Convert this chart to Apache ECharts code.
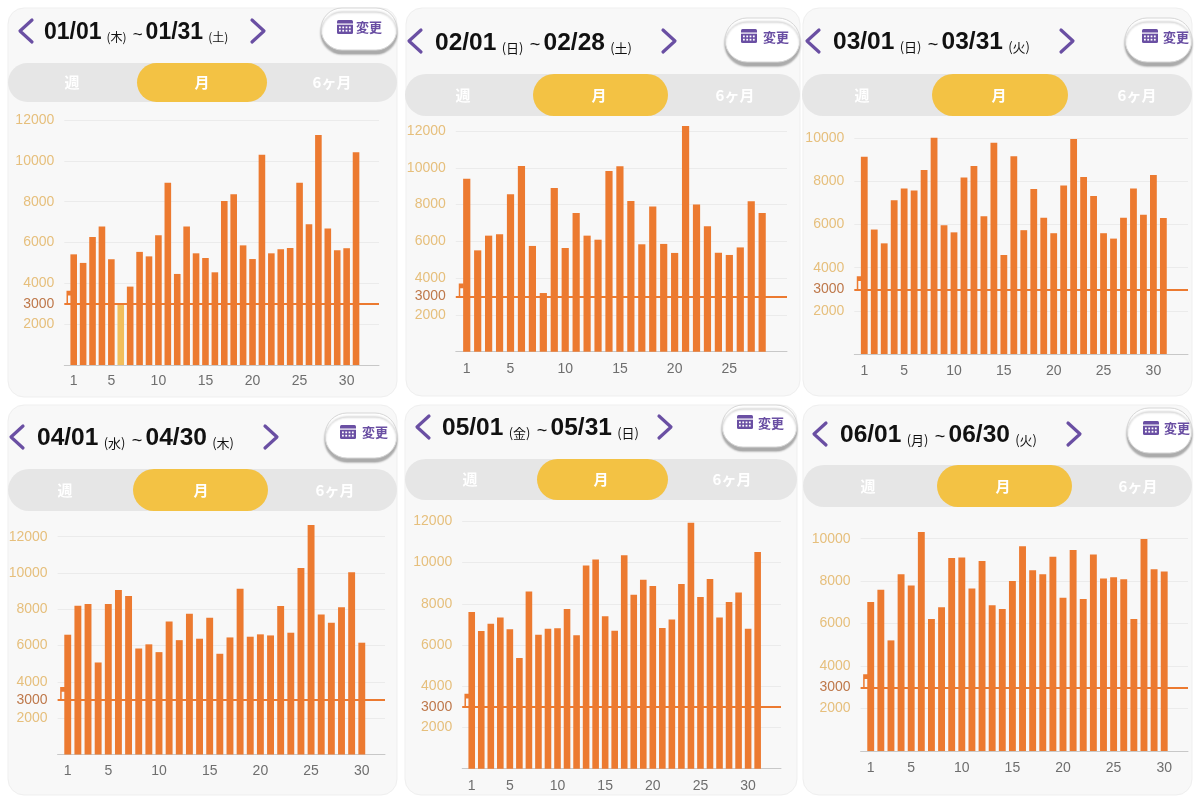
<!DOCTYPE html>
<html><head><meta charset="utf-8">
<script src="https://cdn.jsdelivr.net/npm/echarts@6/dist/echarts.min.js"></script>
<style>html,body{margin:0;padding:0;background:#fff}#c{width:1200px;height:801px}</style>
</head><body><div id="c"></div>
<script>
// ---- data (daily step counts) ----
const janSteps = [5420,5000,6270,6780,5180,3000,3840,5540,5320,6350,8930,4460,6780,5470,5240,4540,8030,8360,5860,5190,10300,5470,5670,5730,8930,6890,11270,6680,5620,5720,10420];
const febSteps = [9410,5510,6310,6380,8560,10100,5750,3190,8900,5640,7540,6310,6090,9830,10080,8190,5840,7900,5860,5370,12270,8010,6820,5380,5260,5670,8180,7540];
const marSteps = [9140,5770,5130,7130,7670,7580,8530,10030,5970,5640,8180,8720,6390,9790,4590,9170,5740,7650,6320,5600,7810,9970,8210,7330,5600,5350,6320,7670,6450,8300,6310];
const aprSteps = [6600,8200,8290,5070,8290,9060,8730,5840,6070,5640,7330,6300,7760,6380,7540,5550,6450,9130,6490,6620,6560,8180,6710,10270,12650,7720,7260,8110,10040,6160];
const maySteps = [7600,6680,7030,7330,6760,5370,8600,6500,6790,6810,7750,6470,9860,10150,7390,6690,10350,8440,9170,8860,6820,7240,8960,11930,8330,9200,7330,8090,8550,6790,10510];
const junSteps = [7020,7600,5210,8320,7790,10310,6220,6770,9090,9120,7650,8950,6860,6690,8010,9640,8510,8320,9150,7220,9470,7160,9260,8120,8180,8090,6220,9990,8560,8450];
const janLightDays = [6];           // day drawn in the lighter colour
const targetSteps = 3000;
const yMaxima = [12000,12000,10000,12000,12000,10000];
const dayTicksLong = [1,5,10,15,20,25,30];
const dayTicksFeb = [1,5,10,15,20,25];
const panelTitles = [
  ['01/01','木','01/31','土'],
  ['02/01','日','02/28','土'],
  ['03/01','日','03/31','火'],
  ['04/01','水','04/30','木'],
  ['05/01','金','05/31','日'],
  ['06/01','月','06/30','火']
];
const tabLabels = ['週','月','6ヶ月'];
const changeLabel = '変更';

// ---- layout (pixel positions of each screenshot panel) ----
const L = [
 {card:[8,8,389,389], la:[26,31], tx:44, ty:31, ra:[258,31], fs:23, sfs:12, btn:[321,8,76,42,21], ico:[337,20], bt:[356,27], seg:[8,63,389,39], pill:[137,130], tabs:[72,202,332],
  g:{x0:64.3, top:120, bottom:365, right:379, xMax:33.44, lbl:16}, bw:6.6},
 {card:[406,8,394,388], la:[415,41], tx:435, ty:41, ra:[669,41], fs:24.5, sfs:13, btn:[725,18,75,44,22], ico:[741,29], bt:[763,37], seg:[405,74,395,42], pill:[533,135], tabs:[463,599,735],
  g:{x0:455.8, top:131, bottom:351.7, right:787, xMax:30.27, lbl:17.6}, bw:7.2},
 {card:[803,8,389,388], la:[813,41], tx:833, ty:40.5, ra:[1067,41], fs:24.5, sfs:13, btn:[1125,18,67,44,22], ico:[1142,29], bt:[1163,37], seg:[802,74,390,42], pill:[932,136], tabs:[862,999,1137],
  g:{x0:854.3, top:138.3, bottom:354, right:1188, xMax:33.47, lbl:17}, bw:6.8},
 {card:[8,405,389,390], la:[17,437], tx:37, ty:436.7, ra:[271,437], fs:24.5, sfs:13, btn:[325,413,72,45,22], ico:[340,425], bt:[362,432], seg:[8,469,389,42], pill:[133,135], tabs:[65,201,335],
  g:{x0:57.6, top:536.7, bottom:754.5, right:385, xMax:32.29, lbl:16.8}, bw:6.9},
 {card:[405,405,392,390], la:[423,427], tx:442, ty:426.7, ra:[665,427], fs:24.5, sfs:13, btn:[722,405,75,42,21], ico:[737,415], bt:[758,423], seg:[405,459,392,41], pill:[537,131], tabs:[470,601,732],
  g:{x0:462.2, top:521.3, bottom:768.7, right:781, xMax:33.45, lbl:17}, bw:6.6},
 {card:[803,405,389,390], la:[820,434], tx:840, ty:433, ra:[1074,434], fs:24.5, sfs:13, btn:[1127,408,65,45,22], ico:[1143,421], bt:[1164,428], seg:[803,465,389,42], pill:[937,135], tabs:[868,1003,1138],
  g:{x0:860.6, top:538.7, bottom:751, right:1188, xMax:32.35, lbl:17.3}, bw:6.9}
];

const allSteps = [janSteps,febSteps,marSteps,aprSteps,maySteps,junSteps];
const ORANGE = '#EC7A30', LIGHT = '#F1BE5C', PURPLE = '#6A4FA3', YELLOW = '#F3C244';
const FONT = '"Liberation Sans", Arial, "Noto Sans CJK JP", sans-serif';
const CJK = '"Noto Sans CJK JP", "Liberation Sans", sans-serif';

const grids = [], xAxes = [], yAxes = [], series = [], graphics = [];

L.forEach((p, i) => {
  const g = p.g;
  grids.push({left:g.x0, top:g.top, width:g.right-g.x0, height:g.bottom-g.top, containLabel:false, outerBoundsMode:'none'});
  xAxes.push({type:'value', gridIndex:i, min:0, max:g.xMax,
    axisLine:{show:true, onZero:false, lineStyle:{color:'#C8C8C8', width:1}},
    axisTick:{show:false}, splitLine:{show:false},
    axisLabel:{customValues: i===1 ? dayTicksFeb : dayTicksLong, color:'#6E6E6E', fontSize:14, fontFamily:FONT, margin:g.lbl-7}});
  yAxes.push({type:'value', gridIndex:i, min:0, max:yMaxima[i], interval:2000,
    axisLine:{show:false}, axisTick:{show:false},
    splitLine:{show:true, lineStyle:{color:'#EBEBEB', width:1}},
    axisLabel:{color:'#E6BF7C', fontSize:14, fontFamily:FONT, margin:10, formatter:v => v===0 ? '' : String(v)}});
  const steps = allSteps[i];
  series.push({type:'line', xAxisIndex:i, yAxisIndex:i, data:[], z:2, silent:true,
    markLine:{silent:true, symbol:['none','none'], lineStyle:{color:ORANGE, width:2, type:'solid'},
      label:{show:true, position:'start', distance:10, formatter:String(targetSteps), color:'#BE784A', fontSize:14, fontFamily:FONT},
      emphasis:{disabled:true}, data:[{yAxis:targetSteps}]},
    markPoint:{silent:true, symbol:'path://M0,0 H10 V5 H3 V14 H0 Z', symbolSize:[5,13], symbolOffset:[0,'-50%'],
      itemStyle:{color:ORANGE}, label:{show:false}, data:[{coord:[0.5, targetSteps]}]}
  });
  series.push({type:'bar', xAxisIndex:i, yAxisIndex:i, z:3, clip:false, barWidth:p.bw, silent:true,
    itemStyle:{color:ORANGE},
    data: steps.map((v, k) => {
      const day = k + 1;
      if (i === 0 && janLightDays.includes(day)) return {value:[day, v], itemStyle:{color:LIGHT}};
      return [day, v];
    })});

  // ---- UI chrome ----
  const [cx, cy, cw, ch] = p.card;
  graphics.push({type:'rect', z:0, shape:{x:cx, y:cy, width:cw, height:ch, r:16}, style:{fill:'#F8F8F8', stroke:'#EFEFEF', lineWidth:1}});
  const [sx, sy, sw, sh] = p.seg;
  graphics.push({type:'rect', z:1, shape:{x:sx, y:sy, width:sw, height:sh, r:sh/2}, style:{fill:'#E6E6E6'}});
  graphics.push({type:'rect', z:2, shape:{x:p.pill[0], y:sy, width:p.pill[1], height:sh, r:sh/2}, style:{fill:YELLOW}});
  tabLabels.forEach((t, k) => graphics.push({type:'text', z:3, x:p.tabs[k], y:sy+sh/2,
    style:{text:t, fill:'#fff', fontSize:15, fontWeight:'bold', fontFamily:CJK, align:'center', verticalAlign:'middle'}}));
  const [lx, ly] = p.la, [rx, ry] = p.ra;
  graphics.push({type:'polyline', z:3, shape:{points:[[lx+6,ly-11],[lx-6,ly],[lx+6,ly+11]]}, style:{stroke:PURPLE, lineWidth:3.2, fill:null, lineCap:'round', lineJoin:'round'}});
  graphics.push({type:'polyline', z:3, shape:{points:[[rx-6,ry-11],[rx+6,ry],[rx-6,ry+11]]}, style:{stroke:PURPLE, lineWidth:3.2, fill:null, lineCap:'round', lineJoin:'round'}});
  const t = panelTitles[i];
  const k = p.fs / 23;
  graphics.push({type:'text', z:3, x:p.tx, y:p.ty,
    style:{text:`{d|${t[0]}}{s|(${t[1]})}{w|~}{e|${t[2]}}{s|(${t[3]})}`,
      verticalAlign:'middle', align:'left', fontFamily:FONT,
      rich:{
        d:{fontSize:p.fs, fontWeight:'bold', fill:'#111', color:'#111', fontFamily:FONT, verticalAlign:'bottom', lineHeight:p.fs+4},
        e:{fontSize:p.fs, fontWeight:'bold', fill:'#111', color:'#111', fontFamily:FONT, verticalAlign:'bottom', lineHeight:p.fs+4, padding:[0,0,0,3*k]},
        s:{fontSize:p.sfs, fill:'#111', color:'#111', fontFamily:CJK, verticalAlign:'bottom', lineHeight:p.sfs+4, padding:[0,0,1,5*k]},
        w:{fontSize:17*k, fill:'#111', color:'#111', fontFamily:FONT, verticalAlign:'bottom', lineHeight:17*k, padding:[0,0,1,6*k]}
      }}});
  const [bx, by, bw, bh, br] = p.btn;
  graphics.push({type:'rect', z:3, shape:{x:bx, y:by, width:bw, height:bh, r:br},
    style:{fill:'#fff', stroke:'#D6D6D6', lineWidth:1, shadowColor:'rgba(0,0,0,0.3)', shadowOffsetY:4, shadowBlur:2}});
  const [ix, iy] = p.ico;
  graphics.push({type:'rect', z:4, shape:{x:ix, y:iy, width:16, height:14, r:1.5}, style:{fill:PURPLE}});
  graphics.push({type:'rect', z:5, shape:{x:ix, y:iy+3.5, width:16, height:1.2}, style:{fill:'#fff'}});
  for (let r = 0; r < 2; r++) for (let c = 0; c < 4; c++)
    graphics.push({type:'rect', z:5, shape:{x:ix+2+c*3.3, y:iy+6.5+r*3.3, width:1.8, height:1.8}, style:{fill:'#fff'}});
  graphics.push({type:'text', z:4, x:p.bt[0], y:p.bt[1],
    style:{text:changeLabel, fill:PURPLE, fontSize:13, fontWeight:'bold', fontFamily:CJK, align:'left', verticalAlign:'middle'}});
});

const chart = echarts.init(document.getElementById('c'), null, {renderer:'canvas'});
chart.setOption({
  backgroundColor:'#ffffff',
  animation:false,
  grid:grids, xAxis:xAxes, yAxis:yAxes, series:series,
  graphic:{elements:graphics}
});
</script></body></html>
